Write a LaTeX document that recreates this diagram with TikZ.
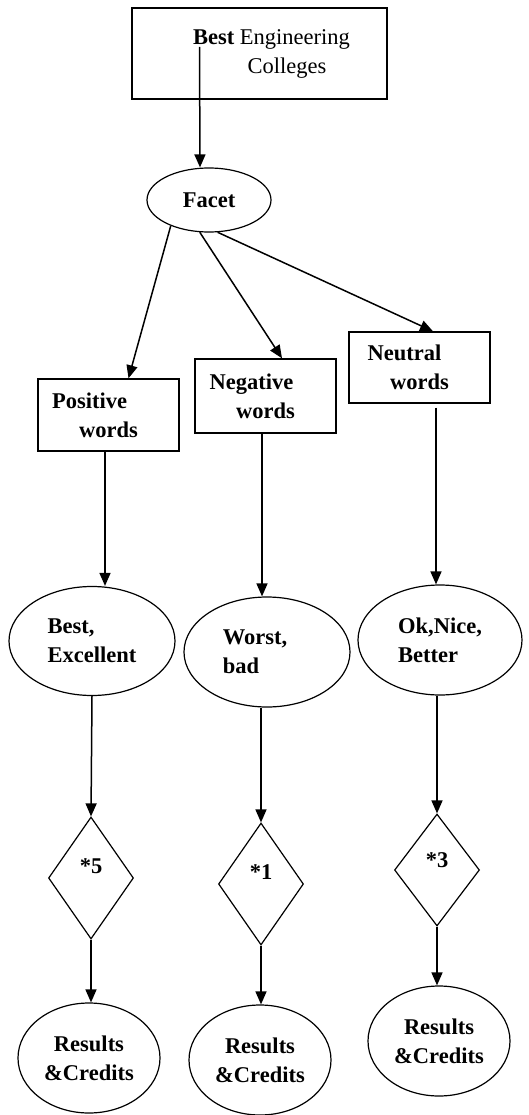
\documentclass[tikz,border=0pt]{standalone}
\usepackage{fontspec}
\setmainfont{Liberation Serif}
\usetikzlibrary{shapes.geometric,arrows.meta}

\begin{document}
\begin{tikzpicture}[x=1pt, y=-1pt, >={Triangle[length=13pt,width=11pt]},
    every node/.style={font=\fontsize{22.5}{29}\selectfont\bfseries, inner sep=0pt},
    wordbox/.style={draw, rectangle, line width=1.4pt, minimum width=141pt, minimum height=72pt, align=center},
    wordset/.style={draw, ellipse, line width=1.2pt, minimum width=166pt, minimum height=109pt, align=left},
    weight/.style={draw, diamond, line width=1.2pt, minimum width=85pt, minimum height=122pt, text depth=24pt},
    result/.style={draw, ellipse, line width=1.2pt, minimum width=142pt, minimum height=110pt, align=center},
    link/.style={->, line width=1.5pt}]
        \useasboundingbox (0,0) rectangle (528,1115);

        % Top
        \node[draw, rectangle, line width=1.4pt, minimum width=255pt, minimum height=91pt, align=center] (title) at (259.5,53.5) {\hspace*{24pt}Best \mdseries Engineering\\\hspace*{55pt}\mdseries Colleges};
        \node[draw, ellipse, line width=1.2pt, minimum width=124pt, minimum height=64pt] (facet) at (209,200) {Facet};

        % Word classes
        \node[wordbox] (pos) at (108.5,415) {Positive\hspace*{38pt}\\words};
        \node[wordbox, minimum height=74pt] (neg) at (265.5,396) {Negative\hspace*{28pt}\\words};
        \node[wordbox, minimum height=71pt] (neu) at (419.5,367.5) {Neutral\hspace*{30pt}\\words};

        % Word sets
        \node[wordset] (best) at (92,641) {Best,\\Excellent};
        \node[wordset, minimum height=110pt] (worst) at (267,652) {Worst,\hspace*{24pt}\\bad};
        \node[wordset, minimum width=164pt, minimum height=110pt] (ok) at (440,640) {Ok,Nice,\\Better};

        % Weights
        \node[weight] (w5) at (91,878) {*5};
        \node[weight] (w1) at (261,884) {*1};
        \node[weight, minimum height=112pt, text depth=20pt] (w3) at (437,870) {*3};

        % Results
        \node[result] (res5) at (89,1058) {Results\\\&Credits};
        \node[result] (res1) at (260,1060) {Results\\\&Credits};
        \node[result] (res3) at (439,1041) {Results\\\&Credits};

        % Arrows
        \draw[link] ([xshift=-60pt,yshift=6.5pt]title.center) -- ([xshift=-9pt]facet.north);
        \draw[link] (facet.214) -- ([xshift=20pt]pos.north);
        \draw[link] (facet.254) -- ([xshift=16.5pt]neg.north);
        \draw[link] (facet.285) -- ([xshift=13.5pt]neu.north);

        \draw[link] ([xshift=-3.5pt]pos.south) -- ([xshift=-3.5pt]pos.south |- best.north);
        \draw[link] ([xshift=-3.5pt]neg.south) -- ([xshift=-3.5pt]neg.south |- worst.north);
        \draw[link] ([xshift=16.5pt,yshift=-4pt]neu.south) -- ([xshift=16.5pt]neu.south |- ok.north);

        \draw[link] (best.south) -- (w5.north);
        \draw[link] (w1.north |- worst.south) -- (w1.north);
        \draw[link] (w3.north |- ok.south) -- (w3.north);

        \draw[link] (w5.south) -- (w5.south |- res5.north);
        \draw[link] (w1.south) -- (w1.south |- res1.north);
        \draw[link] (w3.south) -- (w3.south |- res3.north);
\end{tikzpicture}
\end{document}
